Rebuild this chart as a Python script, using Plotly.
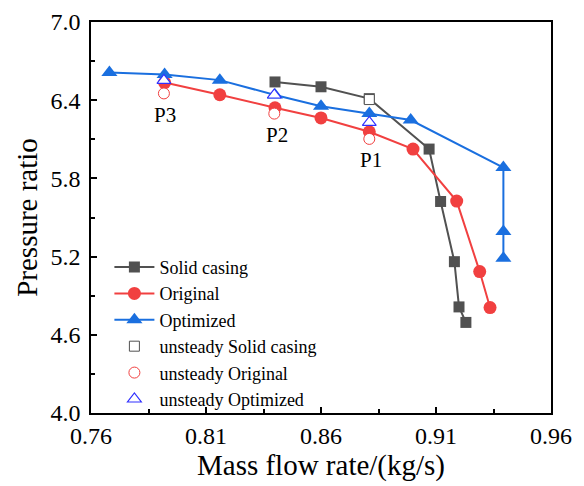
import plotly.graph_objects as go

# Steady curves
solid_x = [0.840, 0.860, 0.881, 0.907, 0.912, 0.918, 0.920, 0.923]
solid_y = [6.540, 6.503, 6.412, 6.025, 5.623, 5.161, 4.814, 4.695]

orig_x = [0.792, 0.816, 0.840, 0.860, 0.881, 0.900, 0.919, 0.929, 0.9335]
orig_y = [6.535, 6.442, 6.342, 6.264, 6.158, 6.025, 5.626, 5.085, 4.809]

opt_x = [0.768, 0.792, 0.816, 0.840, 0.860, 0.881, 0.899, 0.9393, 0.9393, 0.9393]
opt_y = [6.612, 6.597, 6.554, 6.440, 6.354, 6.298, 6.248, 5.883, 5.393, 5.188]

# Unsteady points
us_solid_x = [0.881]
us_solid_y = [6.405]
us_orig_x = [0.7917, 0.8397, 0.881]
us_orig_y = [6.452, 6.297, 6.103]
us_opt_x = [0.7917, 0.8397, 0.881]
us_opt_y = [6.552, 6.440, 6.230]

point_labels = ["P3", "P2", "P1"]
label_x = [0.7922, 0.8407, 0.8816]
label_y = [6.284, 6.133, 5.945]

GRAY = "#515151"
RED = "#F14040"
BLUE = "#1A6FDF"
FONT = "Liberation Serif, Times New Roman, serif"

fig = go.Figure()
fig.add_trace(go.Scatter(x=solid_x, y=solid_y, mode="lines+markers", name="Solid casing",
                         line=dict(color=GRAY, width=2),
                         marker=dict(symbol="square", size=11, color=GRAY)))
fig.add_trace(go.Scatter(x=orig_x, y=orig_y, mode="lines+markers", name="Original",
                         line=dict(color=RED, width=2),
                         marker=dict(symbol="circle", size=13, color=RED)))
fig.add_trace(go.Scatter(x=opt_x, y=opt_y, mode="lines+markers", name="Optimized",
                         line=dict(color=BLUE, width=2),
                         marker=dict(symbol="triangle-up", size=14, color=BLUE)))
fig.add_trace(go.Scatter(x=us_solid_x, y=us_solid_y, mode="markers", name="unsteady Solid casing",
                         marker=dict(symbol="square", size=10, color="white",
                                     line=dict(width=1, color=GRAY))))
fig.add_trace(go.Scatter(x=us_orig_x, y=us_orig_y, mode="markers", name="unsteady Original",
                         marker=dict(symbol="circle", size=11, color="white",
                                     line=dict(width=1, color=RED))))
fig.add_trace(go.Scatter(x=us_opt_x, y=us_opt_y, mode="markers", name="unsteady Optimized",
                         marker=dict(symbol="triangle-up", size=12, color="white",
                                     line=dict(width=1.2, color="#3030FF"))))

for t, x, y in zip(point_labels, label_x, label_y):
    fig.add_annotation(x=x, y=y, text=t, showarrow=False,
                       font=dict(family=FONT, size=21, color="black"))

axis_common = dict(showline=True, linecolor="black", linewidth=1.5, mirror=True,
                   ticks="inside", ticklen=6, tickwidth=1.5, tickcolor="black",
                   showgrid=False, zeroline=False, automargin=False,
                   ticklabeloverflow="allow",
                   tickfont=dict(family=FONT, size=24, color="black"))

fig.update_xaxes(range=[0.76, 0.96], tickvals=[0.76, 0.81, 0.86, 0.91, 0.96],
                 ticktext=["0.76", "0.81", "0.86", "0.91", "0.96"],
                 minor=dict(tickvals=[0.785, 0.835, 0.885, 0.935], ticks="inside", ticklen=4,
                            tickwidth=1.5, tickcolor="black"),
                 title=dict(text="Mass flow rate/(kg/s)", font=dict(family=FONT, size=29, color="black"),
                            standoff=4),
                 **axis_common)
fig.update_yaxes(range=[4.0, 7.0], tickvals=[4.0, 4.6, 5.2, 5.8, 6.4, 7.0],
                 ticktext=["4.0", "4.6", "5.2", "5.8", "6.4", "7.0"],
                 minor=dict(tickvals=[4.3, 4.9, 5.5, 6.1, 6.7], ticks="inside", ticklen=4,
                            tickwidth=1.5, tickcolor="black"),
                 ticklabelstandoff=4,
                 title=dict(text="Pressure ratio", font=dict(family=FONT, size=29, color="black"),
                            standoff=4),
                 **axis_common)

# the page adds an 8 px body margin, so the figure is 8 px smaller on each axis
fig.update_layout(
    width=576, height=478,
    margin=dict(l=83, r=33, t=14, b=73),
    plot_bgcolor="white", paper_bgcolor="white",
    legend=dict(x=0.04, y=0.42, xanchor="left", yanchor="top",
                bgcolor="rgba(0,0,0,0)", font=dict(family=FONT, size=18, color="black"),
                tracegroupgap=0, itemwidth=40),
    showlegend=True,
)

fig.write_html("out.html")
